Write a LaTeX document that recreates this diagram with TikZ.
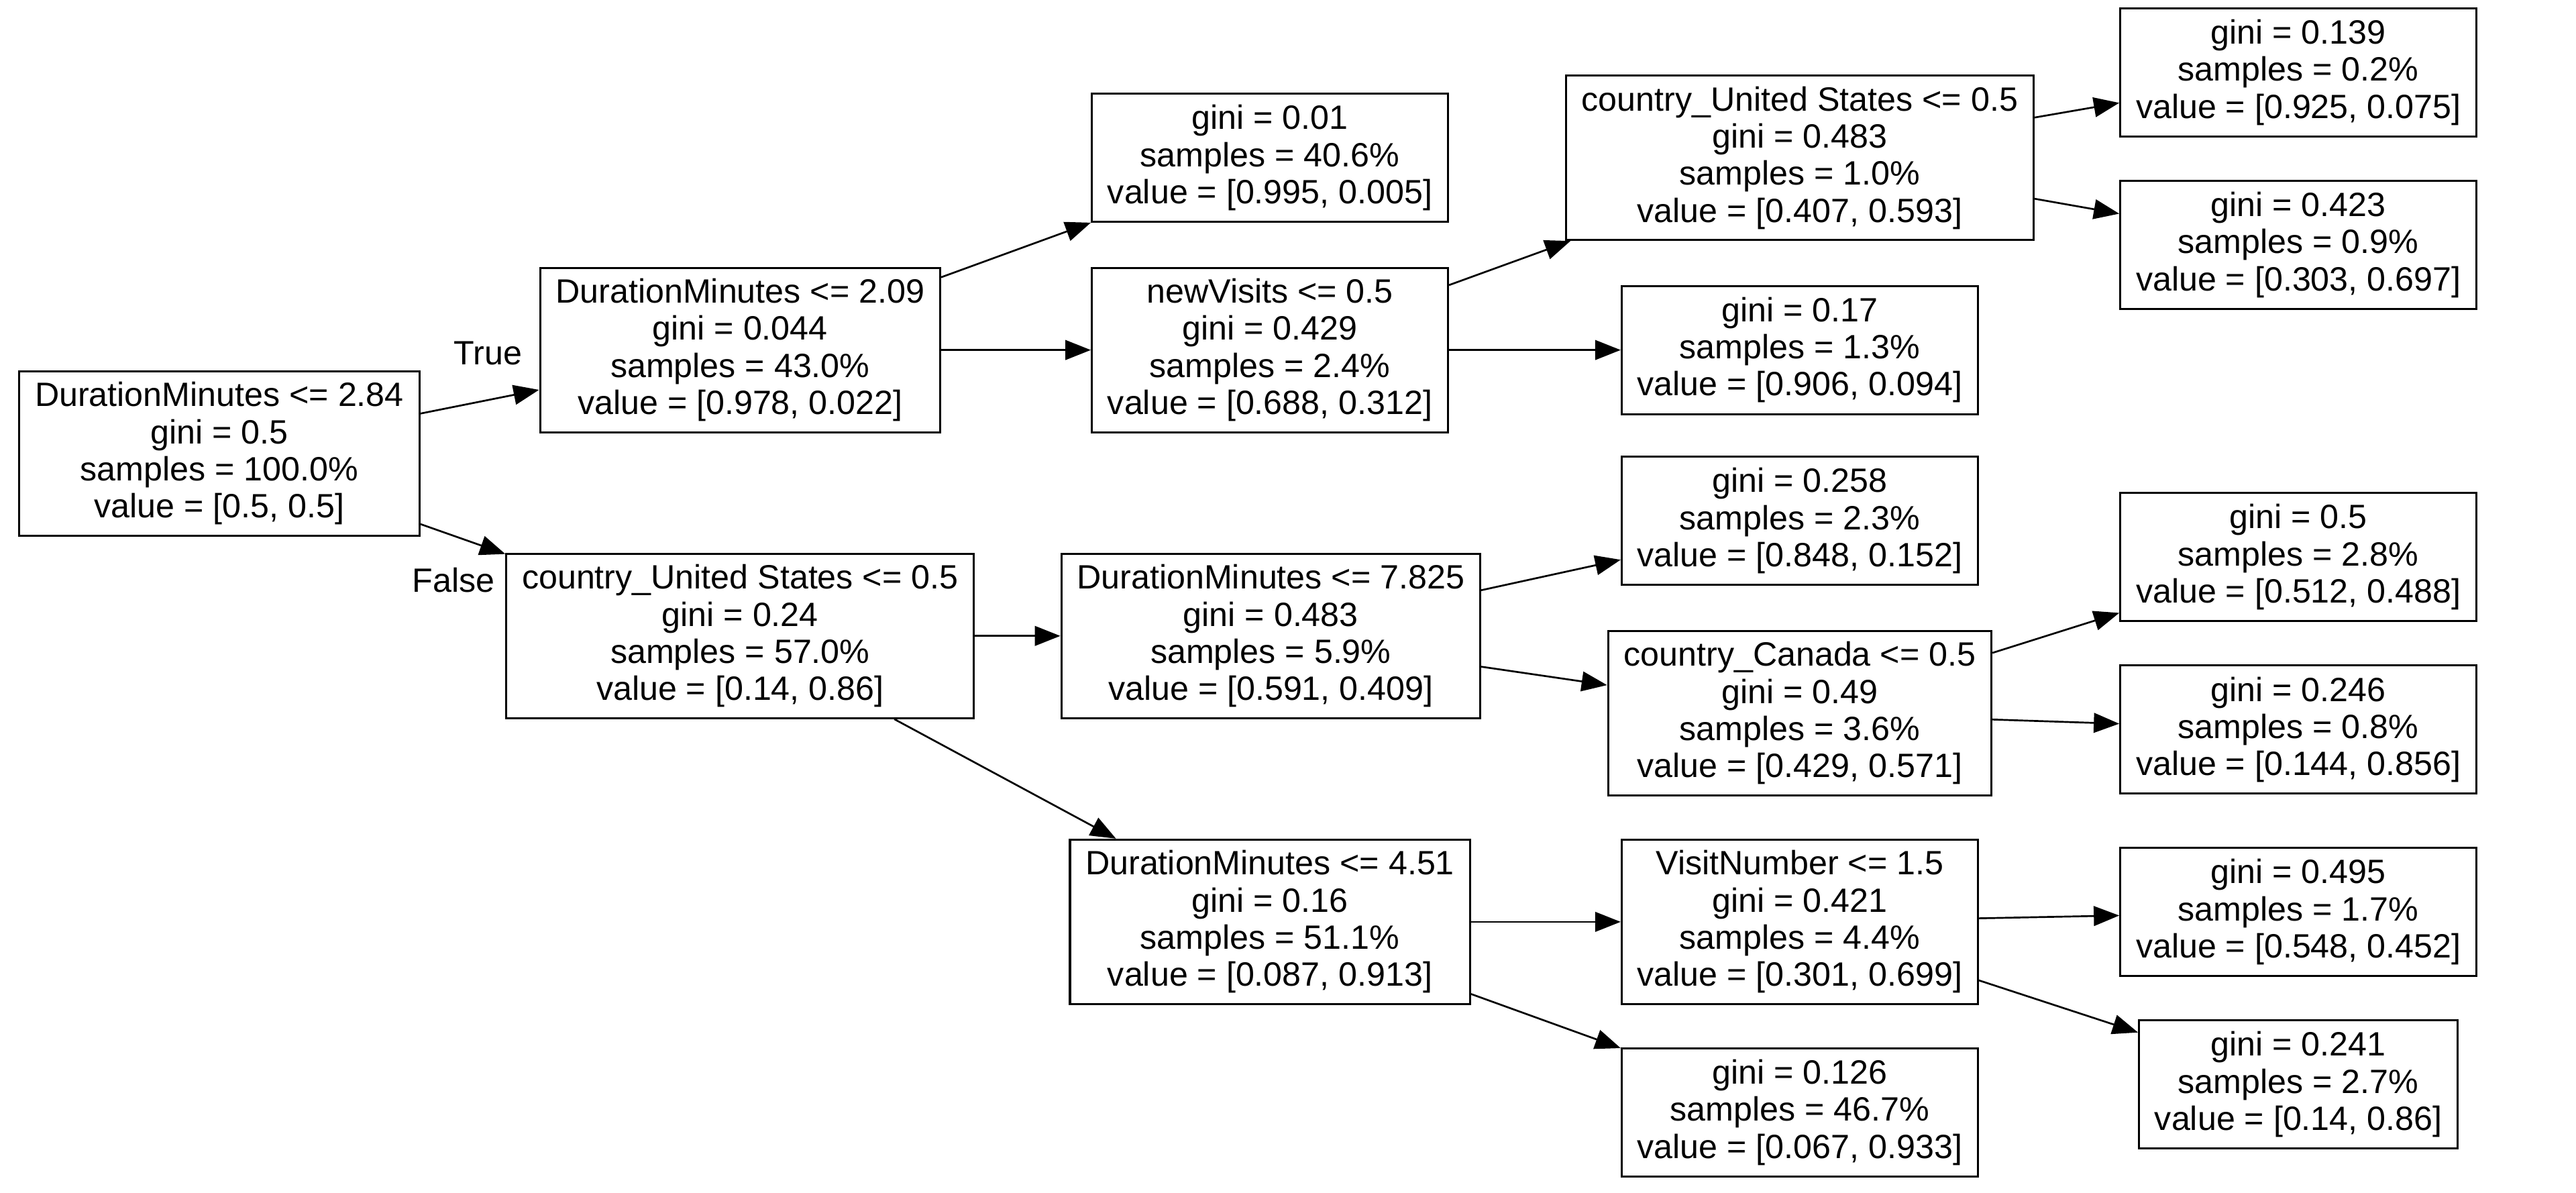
\documentclass[tikz,border=0pt]{standalone}
\usepackage{fontspec}
\setmainfont{Liberation Sans}
\usetikzlibrary{arrows.meta}
\tikzset{
  box/.style={draw, line width=1.3pt, align=center, inner xsep=9.5pt, inner ysep=2pt,
    font=\fontsize{20.5}{22.6}\selectfont},
  split/.style={box, minimum height=100pt},
  leaf/.style={box, minimum height=78pt},
  lbl/.style={font=\fontsize{20.5}{22.6}\selectfont},
  edge/.style={line width=1.1pt, -{Triangle[length=15.5pt,width=12pt]}}
}
\begin{document}
\begin{tikzpicture}[x=1pt, y=-1pt]
\useasboundingbox (0,0) rectangle (1568,726);
%
% decision tree, one box per node

%% root
\node[split] (root) at (133.5,276) {DurationMinutes <= 2.84\\gini = 0.5\\samples = 100.0\%\\value = [0.5, 0.5]};
%% depth 1
\node[split] (dmA) at (450.5,213) {DurationMinutes <= 2.09\\gini = 0.044\\samples = 43.0\%\\value = [0.978, 0.022]};
\node[split] (usA) at (450.5,387) {country\_United States <= 0.5\\gini = 0.24\\samples = 57.0\%\\value = [0.14, 0.86]};
%% depth 2
\node[leaf] (lfA) at (773,96) {gini = 0.01\\samples = 40.6\%\\value = [0.995, 0.005]};
\node[split] (nv) at (773,213) {newVisits <= 0.5\\gini = 0.429\\samples = 2.4\%\\value = [0.688, 0.312]};
\node[split] (dmB) at (773.5,387) {DurationMinutes <= 7.825\\gini = 0.483\\samples = 5.9\%\\value = [0.591, 0.409]};
\node[split] (dmC) at (773,561) {DurationMinutes <= 4.51\\gini = 0.16\\samples = 51.1\%\\value = [0.087, 0.913]};
%% depth 3
\node[split] (usB) at (1095.5,96) {country\_United States <= 0.5\\gini = 0.483\\samples = 1.0\%\\value = [0.407, 0.593]};
\node[leaf] (lfB) at (1095.5,213) {gini = 0.17\\samples = 1.3\%\\value = [0.906, 0.094]};
\node[leaf] (lfC) at (1095.5,317) {gini = 0.258\\samples = 2.3\%\\value = [0.848, 0.152]};
\node[split] (ca) at (1095.5,434) {country\_Canada <= 0.5\\gini = 0.49\\samples = 3.6\%\\value = [0.429, 0.571]};
\node[split] (vn) at (1095.5,561) {VisitNumber <= 1.5\\gini = 0.421\\samples = 4.4\%\\value = [0.301, 0.699]};
\node[leaf] (lfD) at (1095.5,677) {gini = 0.126\\samples = 46.7\%\\value = [0.067, 0.933]};
%% depth 4
\node[leaf] (lfE) at (1399,44) {gini = 0.139\\samples = 0.2\%\\value = [0.925, 0.075]};
\node[leaf] (lfF) at (1399,149) {gini = 0.423\\samples = 0.9\%\\value = [0.303, 0.697]};
\node[leaf] (lfG) at (1399,339) {gini = 0.5\\samples = 2.8\%\\value = [0.512, 0.488]};
\node[leaf] (lfH) at (1399,444) {gini = 0.246\\samples = 0.8\%\\value = [0.144, 0.856]};
\node[leaf] (lfI) at (1399,555) {gini = 0.495\\samples = 1.7\%\\value = [0.548, 0.452]};
\node[leaf] (lfJ) at (1399,660) {gini = 0.241\\samples = 2.7\%\\value = [0.14, 0.86]};

%% branch labels
\node[lbl] (tru) at (297,215) {True};
\node[lbl] (fls) at (276,353) {False};

%% edges
\draw[edge] (root) -- (dmA);
\draw[edge] (root) -- (usA);
\draw[edge] (dmA) -- (lfA);
\draw[edge] (dmA) -- (nv);
\draw[edge] (nv) -- (usB);
\draw[edge] (nv) -- (lfB);
\draw[edge] (usB) -- (lfE);
\draw[edge] (usB) -- (lfF);
\draw[edge] (usA) -- (dmB);
\draw[edge] (usA) -- (dmC);
\draw[edge] (dmB) -- (lfC);
\draw[edge] (dmB) -- (ca);
\draw[edge] (ca) -- (lfG);
\draw[edge] (ca) -- (lfH);
\draw[edge] (dmC) -- (vn);
\draw[edge] (dmC) -- (lfD);
\draw[edge] (vn) -- (lfI);
\draw[edge] (vn) -- (lfJ);
\end{tikzpicture}
\end{document}
